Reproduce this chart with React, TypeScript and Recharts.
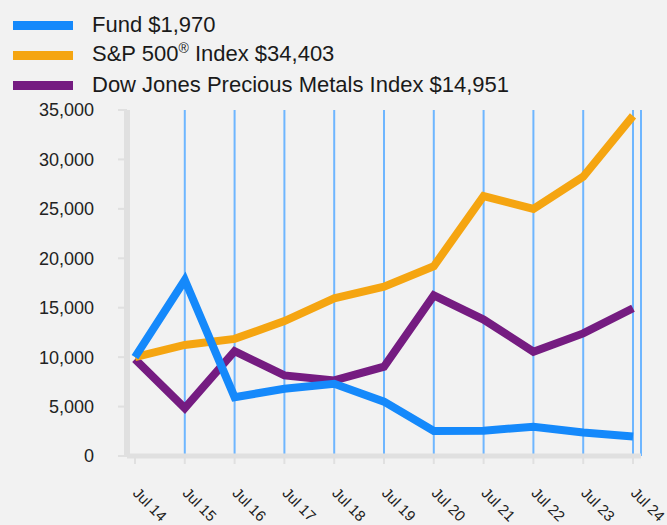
import React from 'react';
import { LineChart, Line, XAxis, YAxis, CartesianGrid } from 'recharts';

const categories = ['Jul 14', 'Jul 15', 'Jul 16', 'Jul 17', 'Jul 18', 'Jul 19', 'Jul 20', 'Jul 21', 'Jul 22', 'Jul 23', 'Jul 24'];
const fund = [10000, 17800, 5950, 6800, 7300, 5500, 2530, 2560, 2960, 2380, 1970];
const sp500 = [10000, 11230, 11850, 13650, 15950, 17130, 19200, 26300, 24990, 28250, 34403];
const djpm = [9800, 4850, 10600, 8150, 7650, 9030, 16250, 13800, 10550, 12400, 14951];
const yTicks = [0, 5000, 10000, 15000, 20000, 25000, 30000, 35000];

const seriesInfo = [
  { key: 'fund', name: 'Fund', last: '$1,970', color: '#1589FB', sup: '' },
  { key: 'sp500', name: 'S&P 500', last: 'Index $34,403', color: '#F5A511', sup: '®' },
  { key: 'djpm', name: 'Dow Jones Precious Metals Index', last: '$14,951', color: '#751C81', sup: '' },
];

const data = categories.map((cat, i) => ({ cat, fund: fund[i], sp500: sp500[i], djpm: djpm[i] }));

const FONT = '"Liberation Sans", Arial, Helvetica, sans-serif';

const XTick = (props: any) => {
  const { x, y, payload } = props;
  return (
    <g transform={`translate(${x - 3},${y + 28})`}>
      <text x={0} y={0} transform="rotate(45)" textAnchor="start" fontSize={15} fill="#222" fontFamily={FONT}>
        {payload.value}
      </text>
    </g>
  );
};

export default function App() {
  return (
    <div style={{ position: 'absolute', left: 0, top: 0, width: 667, height: 525, background: '#f2f2f2', overflow: 'hidden' }}>
      <div style={{ position: 'absolute', left: 13, top: 10, fontFamily: FONT, fontSize: 22, color: '#1a1a1a' }}>
        {seriesInfo.map((s) => (
          <div key={s.key} style={{ display: 'flex', alignItems: 'center', height: 30 }}>
            <div style={{ width: 60, height: 9, background: s.color, marginRight: 19 }} />
            <div style={{ whiteSpace: 'nowrap', lineHeight: '30px' }}>
              {s.name}
              {s.sup ? <span style={{ fontSize: 14, position: 'relative', top: -8 }}>{s.sup}</span> : null}
              {' ' + s.last}
            </div>
          </div>
        ))}
      </div>
      <div style={{ position: 'absolute', left: 0, top: 0 }}>
        <LineChart width={667} height={525} data={data} margin={{ top: 110, right: 26, bottom: 0, left: 7 }}>
          <XAxis
            xAxisId="grid"
            dataKey="cat"
            hide
            padding={{ left: 8, right: 8 }}
            ticks={categories.slice(1)}
            interval={0}
          />
          <CartesianGrid xAxisId="grid" horizontal={false} stroke="#6EB6FF" strokeWidth={2} />
          <XAxis
            dataKey="cat"
            padding={{ left: 8, right: 8 }}
            interval={0}
            height={69}
            tickSize={8}
            axisLine={{ stroke: '#e0e0e0', strokeWidth: 5 }}
            tickLine={{ stroke: '#e0e0e0', strokeWidth: 2 }}
            tick={<XTick />}
          />
          <YAxis
            width={120}
            domain={[0, 35000]}
            ticks={yTicks}
            interval={0}
            tickSize={9}
            tickMargin={24}
            axisLine={{ stroke: '#e0e0e0', strokeWidth: 6 }}
            tickLine={{ stroke: '#e0e0e0', strokeWidth: 2 }}
            tick={{ fontSize: 18, fill: '#222', fontFamily: FONT }}
            tickFormatter={(v: number) => v.toLocaleString('en-US')}
          />
          <Line type="linear" dataKey="djpm" stroke="#751C81" strokeWidth={8} dot={false} isAnimationActive={false} />
          <Line type="linear" dataKey="sp500" stroke="#F5A511" strokeWidth={8} dot={false} isAnimationActive={false} />
          <Line type="linear" dataKey="fund" stroke="#1589FB" strokeWidth={8} dot={false} isAnimationActive={false} />
        </LineChart>
      </div>
    </div>
  );
}
